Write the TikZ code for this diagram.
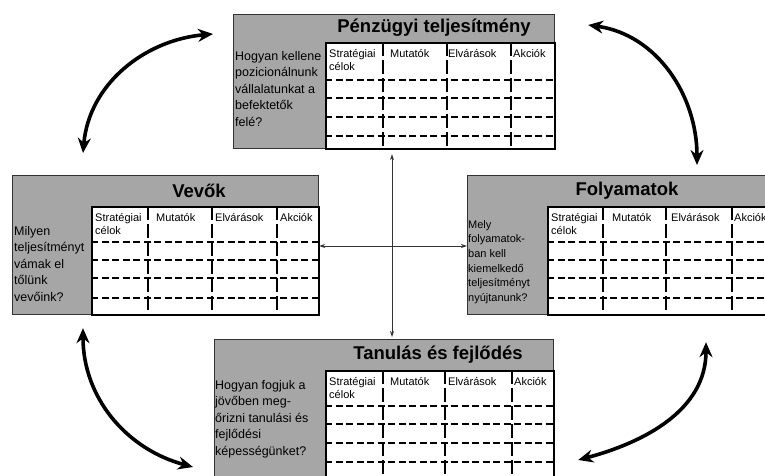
\documentclass[tikz,border=0pt]{standalone}
\usepackage{fontspec}
\setmainfont{Liberation Sans}
\usetikzlibrary{arrows.meta, positioning, calc}
\definecolor{BscGray}{HTML}{A6A6A6}
\definecolor{BscDark}{HTML}{333333}
\tikzset{
    % Panel styles
    panelbox/.style={
        rectangle,
        draw=BscDark,
        fill=BscGray,
        line width=1.2pt,
        inner sep=0pt,
        anchor=north west
    },
    tablebox/.style={
        rectangle,
        draw=black,
        fill=white,
        line width=1.8pt,
        inner sep=0pt,
        anchor=north west
    },
    paneltitle/.style={
        inner sep=0pt,
        font=\fontsize{18.5}{20}\selectfont\bfseries
    },
    question/.style={
        align=left,
        anchor=west,
        inner sep=0pt,
        font=\fontsize{12.5}{16.5}\selectfont
    },
    headtext/.style={
        align=left,
        anchor=north west,
        inner sep=0pt,
        font=\fontsize{11}{13}\selectfont
    },
    % Grid line styles
    rowline/.style={
        line width=1.2pt,
        dash pattern=on 7pt off 3.5pt
    },
    rowlinebold/.style={
        line width=2pt,
        dash pattern=on 7pt off 3.5pt
    },
    colline/.style={
        line width=1.1pt,
        dash pattern=on 14pt off 4pt
    },
    % Arrow styles
    cyclearrow/.style={
        {Stealth[length=15pt,width=13pt]}-{Stealth[length=15pt,width=13pt]},
        line width=3.6pt
    },
    crossarrow/.style={
        {Stealth[length=6pt,width=4pt]}-{Stealth[length=6pt,width=4pt]},
        line width=0.9pt,
        BscDark
    }
}
\begin{document}
\begin{tikzpicture}[x=1pt,y=1pt]
    \useasboundingbox (0,0) rectangle (765,476);
    \clip (0,0) rectangle (765,476);

    % Panel frames
    \node[panelbox,minimum width=321pt,minimum height=134pt] (penz) at (233,462) {};
    \node[panelbox,minimum width=306pt,minimum height=139pt] (vevo) at (12,301) {};
    \node[panelbox,minimum width=330pt,minimum height=139pt] (foly) at (467,301) {};
    \node[panelbox,minimum width=339pt,minimum height=160pt] (tanul) at (214,137) {};

    % Tables
    \node[tablebox,minimum width=229pt,minimum height=106pt] (penztab) at (325,434) {};
    \node[tablebox,minimum width=227pt,minimum height=108pt] (vevotab) at (91,270) {};
    \node[tablebox,minimum width=240pt,minimum height=108pt] (folytab) at (547,270) {};
    \node[tablebox,minimum width=228pt,minimum height=130pt] (tanultab) at (325,106) {};

    % Table rows and columns
    \foreach \y in {396,378,340} \draw[rowline] (325,\y) -- (554,\y);
    \draw[rowlinebold] (325,359) -- (554,359);
    \foreach \x in {383,447,511} \draw[colline] (\x,434) -- (\x,328);

    \foreach \y in {234,198,178} \draw[rowline] (91,\y) -- (318,\y);
    \draw[rowlinebold] (91,216) -- (318,216);
    \foreach \x in {148,212,277} \draw[colline] (\x,270) -- (\x,162);

    \foreach \y in {234,198,178} \draw[rowline] (547,\y) -- (787,\y);
    \draw[rowlinebold] (547,216) -- (787,216);
    \foreach \x in {603,666,732} \draw[colline] (\x,270) -- (\x,162);

    \foreach \y in {70,52,33,14} \draw[rowline] (325,\y) -- (553,\y);
    \foreach \x in {383,445,512} \draw[colline] (\x,106) -- (\x,-24);

    % Titles
    \node[paneltitle] (penztitle) at (434,448) {Pénzügyi teljesítmény};
    \node[paneltitle] (vevotitle) at (199,285) {Vevők};
    \node[paneltitle] (folytitle) at (627,285) {Folyamatok};
    \node[paneltitle] (tanultitle) at (438,121) {Tanulás és fejlődés};

    % Questions
    \node[question] (penzq) at (235,387) {Hogyan kellene\\pozicionálnunk\\vállalatunkat a\\befektetők\\felé?};
    \node[question] (vevoq) at (14,212) {Milyen\\teljesítményt\\vámak el\\tőlünk\\vevőink?};
    \node[question,font=\fontsize{11}{14.6}\selectfont] (folyq) at (468,214) {Mely\\folyamatok-\\ban kell\\kiemelkedő\\teljesítményt\\nyújtanunk?};
    \node[question] (tanulq) at (215,57) {Hogyan fogjuk a\\jövőben meg-\\őrizni tanulási és\\fejlődési\\képességünket?};

    % Column headings
    \node[headtext] (penzh1) at (329,427) {Stratégiai\\célok};
    \node[headtext] (penzh2) at (390,427) {Mutatók};
    \node[headtext] (penzh3) at (448,427) {Elvárások};
    \node[headtext] (penzh4) at (513,427) {Akciók};

    \node[headtext] (vevoh1) at (95,263) {Stratégiai\\célok};
    \node[headtext] (vevoh2) at (156,263) {Mutatók};
    \node[headtext] (vevoh3) at (215,263) {Elvárások};
    \node[headtext] (vevoh4) at (280,263) {Akciók};

    \node[headtext] (folyh1) at (551,263) {Stratégiai\\célok};
    \node[headtext] (folyh2) at (612,263) {Mutatók};
    \node[headtext] (folyh3) at (671,263) {Elvárások};
    \node[headtext] (folyh4) at (734,263) {Akciók};

    \node[headtext] (tanulh1) at (329,99) {Stratégiai\\célok};
    \node[headtext] (tanulh2) at (390,99) {Mutatók};
    \node[headtext] (tanulh3) at (448,99) {Elvárások};
    \node[headtext] (tanulh4) at (514,99) {Akciók};

    % Central cross
    \coordinate (hub) at (392,230);
    \draw[crossarrow,shorten <=5pt,shorten >=2pt] (hub |- penz.south) -- (hub |- tanul.north);
    \draw[crossarrow] (vevo.east |- hub) -- (foly.west |- hub);

    % Cycle arrows
    \draw[cyclearrow] ($(vevo.north west)+(71,22)$) to[out=85,in=185] ($(penz.north west)+(-20,-20)$);
    \draw[cyclearrow] ($(penz.north east)+(33,-11)$) to[out=-8,in=90] ($(foly.north west)+(230,10)$);
    \draw[cyclearrow] ($(vevo.south west)+(71,-13)$) to[out=-90,in=165] ($(tanul.north west)+(-21,-128)$);
    \draw[cyclearrow] ($(foly.south west)+(239,-27)$) to[out=-90,in=15] ($(tanul.north east)+(24,-121)$);
\end{tikzpicture}
\end{document}
